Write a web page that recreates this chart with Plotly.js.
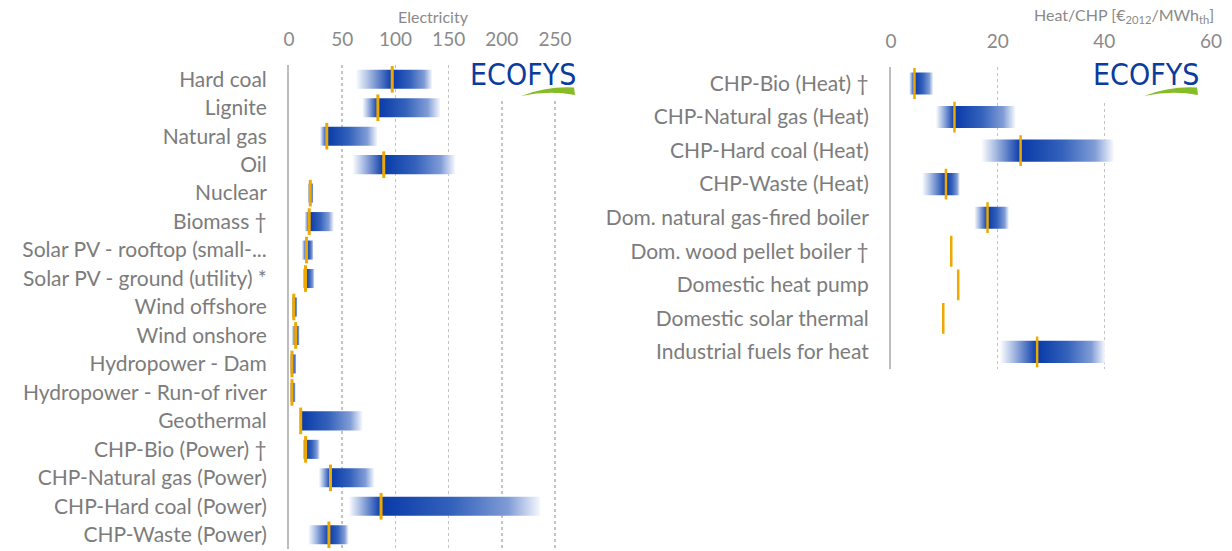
<!DOCTYPE html>
<html>
<head>
<meta charset="utf-8">
<script src="https://cdn.plot.ly/plotly-3.0.1.min.js"></script>
<style>
  body { margin: 0; background: #fff; }
  #chart { width: 1232px; height: 551px; }
</style>
</head>
<body>
<div id="chart"></div>
<script>
// Electricity: cost ranges (min, typical, max)
const elecLabels = ['Hard coal', 'Lignite', 'Natural gas', 'Oil', 'Nuclear', 'Biomass †',
    'Solar PV - rooftop (small-...', 'Solar PV - ground (utility) *', 'Wind offshore', 'Wind onshore',
    'Hydropower - Dam', 'Hydropower - Run-of river', 'Geothermal', 'CHP-Bio (Power) †',
    'CHP-Natural gas (Power)', 'CHP-Hard coal (Power)', 'CHP-Waste (Power)'];
const elecMin  = [62.5, 68.8, 29, 59.5, 17.5, 14.7, 12, 12.8, 2.5, 2.5, 0.8, 0.8, 10, 12.8, 28, 56, 18];
const elecMean = [97, 83.5, 35.5, 89, 20, 19, 16.5, 15.5, 4.5, 6.3, 2.8, 2.8, 11, 15.6, 39, 86.5, 37.5];
const elecMax  = [134.5, 142, 83, 156, 23, 42, 23, 24, 8, 10, 7, 6.3, 69, 29, 80, 236, 56];

// Heat / CHP
const heatLabels = ['CHP-Bio (Heat) †', 'CHP-Natural gas (Heat)', 'CHP-Hard coal (Heat)', 'CHP-Waste (Heat)',
    'Dom. natural gas-fired boiler', 'Dom. wood pellet boiler †', 'Domestic heat pump',
    'Domestic solar thermal', 'Industrial fuels for heat'];
const heatMin  = [3.4, 8.4, 16.9, 5.8, 15.6, 11.3, 12.6, 9.8, 20.4];
const heatMean = [4.4, 11.9, 24.3, 10.3, 18.1, 11.3, 12.6, 9.8, 27.4];
const heatMax  = [7.9, 23.3, 41.7, 12.9, 22.1, 11.3, 12.6, 9.8, 40.1];

const elecTicks = [0, 50, 100, 150, 200, 250];
const heatTicks = [0, 20, 40, 60];

const DARK = 'rgb(8,58,168)';
const ORANGE = '#EEA800';
const W = 1232, H = 551;

// gradient: white at min -> dark at typical value -> white at max
function gradScale(lo, mid, hi) {
    let p = (mid - lo) / (hi - lo);
    p = Math.min(Math.max(p, 0.02), 0.98);
    const q = 1 - p;
    return [
        [0, 'rgb(255,255,255)'],
        [p * 0.35, 'rgb(170,190,228)'],
        [p, DARK],
        [p + q * 0.45, 'rgb(52,98,188)'],
        [p + q * 0.8, 'rgb(128,156,214)'],
        [1, 'rgb(246,248,253)']
    ];
}

function rangeTraces(mins, means, maxs, xa, ya, half, mSize, mWidth) {
    const out = [];
    mins.forEach((lo, i) => {
        const hi = maxs[i];
        if (hi > lo) {
            out.push({
                type: 'scatter', mode: 'lines', xaxis: xa, yaxis: ya,
                x: [lo, hi, hi, lo, lo],
                y: [i - half, i - half, i + half, i + half, i - half],
                fill: 'toself', line: { width: 0 },
                fillgradient: { type: 'horizontal', start: lo, stop: hi, colorscale: gradScale(lo, means[i], hi) },
                hoverinfo: 'skip', showlegend: false
            });
        }
    });
    out.push({
        type: 'scatter', mode: 'markers', xaxis: xa, yaxis: ya,
        x: means, y: means.map((v, i) => i),
        marker: { symbol: 'line-ns', size: mSize, color: ORANGE, line: { color: ORANGE, width: mWidth } },
        showlegend: false
    });
    return out;
}

const data = [
    ...rangeTraces(elecMin, elecMean, elecMax, 'x', 'y', 0.335, 19, 3),
    ...rangeTraces(heatMin, heatMean, heatMax, 'x2', 'y2', 0.33, 22, 2.5)
];

const px = v => v / W;
const py = v => 1 - v / H;

function logo(x0) {
    // white box hiding the gridlines, wordmark, green swoosh
    return {
        shapes: [
            { type: 'rect', xref: 'paper', yref: 'paper', layer: 'above',
              x0: px(x0 - 6), x1: px(x0 + 112), y0: py(101), y1: py(58),
              fillcolor: '#ffffff', line: { width: 0 } },
            { type: 'path', xref: 'paper', yref: 'paper', layer: 'above',
              path: `M ${px(x0 + 50)},${py(96)} Q ${px(x0 + 76)},${py(86)} ${px(x0 + 103)},${py(87.5)} ` +
                    `L ${px(x0 + 104)},${py(95)} Q ${px(x0 + 78)},${py(90)} ${px(x0 + 50)},${py(96)} Z`,
              fillcolor: '#86bc25', line: { width: 0 } }
        ],
        text: { text: 'ECOFYS', xref: 'paper', yref: 'paper', x: px(x0 + 52), y: py(74),
                xanchor: 'center', yanchor: 'middle', showarrow: false,
                font: { family: 'Liberation Sans Narrow, DejaVu Sans Condensed, sans-serif', size: 30, color: '#0a3c9c' } }
    };
}
const logoL = logo(471), logoR = logo(1094);

const tickFont = { family: 'Lato, sans-serif', size: 19, color: '#8a8a8a' };
const labFont = { family: 'Lato, sans-serif', size: 21, color: '#7c7c7c' };

const layout = {
    width: W, height: H,
    margin: { l: 0, r: 0, t: 0, b: 0 },
    paper_bgcolor: '#fff', plot_bgcolor: '#fff',
    showlegend: false,
    xaxis: {
        domain: [289 / W, 587 / W], range: [0, 280], side: 'top', anchor: 'y',
        tickvals: elecTicks, showgrid: true, griddash: 'dot', gridcolor: '#c4c4c4', gridwidth: 1.5,
        zeroline: false, showline: false, ticks: '', tickfont: tickFont, ticklabelstandoff: 14, fixedrange: true
    },
    yaxis: {
        domain: [1 - 549 / H, 1 - 65 / H], range: [16.5, -0.5], anchor: 'x',
        tickvals: elecLabels.map((l, i) => i), ticktext: elecLabels,
        showgrid: false, zeroline: false, showline: true, linecolor: '#bdbdbd', linewidth: 2,
        ticks: '', tickfont: labFont, ticklabelstandoff: 16, fixedrange: true
    },
    xaxis2: {
        domain: [891 / W, 1211 / W], range: [0, 60], side: 'top', anchor: 'y2',
        tickvals: heatTicks, showgrid: true, griddash: 'dot', gridcolor: '#c4c4c4', gridwidth: 1.5,
        zeroline: false, showline: false, ticks: '', tickfont: tickFont, ticklabelstandoff: 14, fixedrange: true
    },
    yaxis2: {
        domain: [1 - 368.7 / H, 1 - 66.7 / H], range: [8.5, -0.5], anchor: 'x2',
        tickvals: heatLabels.map((l, i) => i), ticktext: heatLabels,
        showgrid: false, zeroline: false, showline: true, linecolor: '#bdbdbd', linewidth: 2,
        ticks: '', tickfont: labFont, ticklabelstandoff: 16, fixedrange: true
    },
    shapes: [...logoL.shapes, ...logoR.shapes],
    annotations: [
        { text: 'Electricity', xref: 'paper', yref: 'paper', x: px(433), y: py(16),
          xanchor: 'center', yanchor: 'middle', showarrow: false,
          font: { family: 'Lato, sans-serif', size: 16, color: '#8a8a8a' } },
        { text: 'Heat/CHP [€<sub>2012</sub>/MWh<sub>th</sub>]', xref: 'paper', yref: 'paper',
          x: px(1216), y: py(15), xanchor: 'right', yanchor: 'middle', showarrow: false,
          font: { family: 'Lato, sans-serif', size: 16, color: '#8a8a8a' } },
        logoL.text, logoR.text
    ]
};

Plotly.newPlot('chart', data, layout, { displayModeBar: false, staticPlot: true });
</script>
</body>
</html>
